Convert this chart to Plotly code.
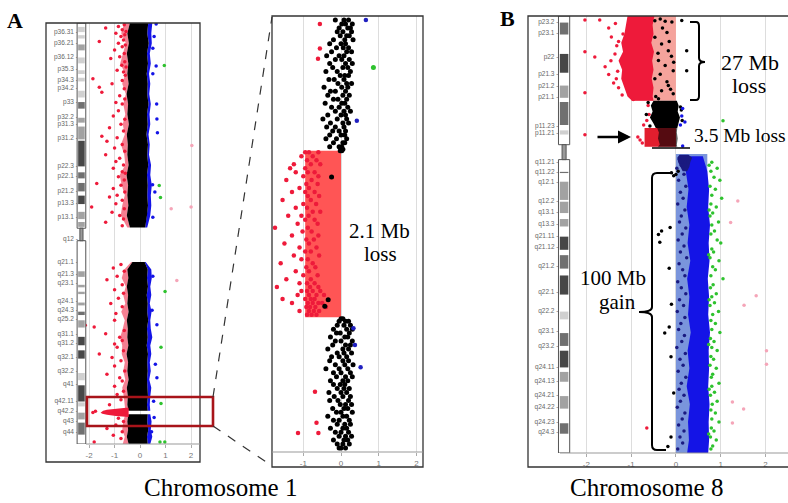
import plotly.graph_objects as go

W, H = 788, 503

# ======================= DATA =======================
CHR1_LEN = 249.25
CHR8_LEN = 146.36

# --- cytoband label positions (Mb) ---
chr1_band_labels = ["p36.31", "p36.21", "p36.12", "p35.3", "p34.3", "p34.2", "p33", "p32.2", "p31.3", "p31.2",
                    "p22.3", "p22.1", "p21.2", "p13.3", "p13.1", "q12", "q21.1", "q21.3", "q23.1", "q24.1",
                    "q24.3", "q25.2", "q31.1", "q31.2", "q32.1", "q32.2", "q41", "q42.11", "q42.2", "q43", "q44"]
chr1_band_mb = [5.3, 11.8, 20.1, 27.2, 33.7, 39.0, 46.7, 55.6, 60.3, 68.6,
                84.6, 91.1, 99.4, 106.5, 115.3, 128.3, 141.9, 149.0, 154.4, 165.0,
                170.3, 175.6, 184.5, 189.8, 198.1, 206.4, 214.1, 224.1, 230.1, 236.0, 242.5]

chr8_band_labels = ["p23.2", "p23.1", "p22", "p21.3", "p21.2", "p21.1", "p11.23", "p11.21", "q11.21", "q11.22",
                    "q12.1", "q12.2", "q13.1", "q13.3", "q21.11", "q21.12", "q21.2", "q22.1", "q22.2", "q23.1",
                    "q23.2", "q24.11", "q24.13", "q24.21", "q24.22", "q24.23", "q24.3"]
chr8_band_mb = [2.0, 5.7, 13.7, 19.7, 23.7, 27.4, 37.1, 39.4, 49.1, 52.5,
                55.8, 62.1, 65.8, 69.8, 73.8, 77.5, 83.9, 92.5, 98.9, 105.6,
                110.6, 117.6, 122.3, 127.0, 131.0, 136.0, 139.3]

# --- stained (gpos) bands ---
chr1_stain_start = [2.3, 7.2, 12.7, 20.4, 28.0, 32.4, 40.1, 46.8, 56.1, 61.3, 69.7, 88.4, 94.7, 102.2, 111.8, 117.8,
                    147.0, 155.0, 159.1, 165.5, 170.9, 176.0, 185.8, 193.8, 207.2, 214.5, 224.6, 230.7, 236.6]
chr1_stain_end = [5.4, 9.2, 16.2, 23.9, 30.2, 34.6, 44.1, 50.7, 59.0, 68.9, 84.9, 92.0, 99.7, 107.2, 116.1, 120.7,
                  150.3, 156.5, 160.5, 167.2, 172.9, 180.3, 190.8, 198.7, 211.5, 224.1, 227.0, 234.7, 243.7]
chr1_stain_level = [25, 25, 50, 25, 25, 25, 25, 75, 50, 50, 100, 75, 75, 100, 50, 50,
                    50, 50, 50, 50, 75, 50, 100, 100, 25, 100, 25, 50, 75]
chr1_centromere = [121.5, 128.9]
chr1_heterochromatin = [128.9, 142.6]

chr8_stain_start = [2.2, 12.7, 23.3, 28.8, 38.3, 52.2, 55.5, 62.2, 68.0, 73.9, 80.1, 86.9, 99.0, 106.2, 112.1, 119.2, 127.3, 136.4]
chr8_stain_end = [6.2, 19.0, 27.4, 36.5, 39.7, 52.6, 61.6, 66.0, 70.5, 78.3, 84.6, 93.3, 101.6, 110.5, 117.7, 122.5, 131.5, 139.9]
chr8_stain_level = [75, 100, 50, 75, 25, 75, 50, 50, 50, 100, 75, 100, 25, 75, 100, 50, 50, 75]
chr8_centromere = [43.1, 48.1]

# --- chromosome 1 dense log2-ratio cloud envelopes ---
chr1p_mb = [0, 6, 12, 18, 24, 30, 36, 42, 48, 54, 60, 66, 72, 78, 84, 90, 96, 102, 108, 114, 121]
chr1p_black_left = [-0.40, -0.50, -0.44, -0.52, -0.46, -0.50, -0.45, -0.53, -0.47, -0.50, -0.44, -0.52, -0.48, -0.50, -0.45, -0.53, -0.47, -0.50, -0.46, -0.52, -0.40]
chr1p_black_right = [0.32, 0.28, 0.34, 0.27, 0.31, 0.26, 0.30, 0.28, 0.33, 0.27, 0.30, 0.25, 0.31, 0.28, 0.32, 0.27, 0.30, 0.28, 0.31, 0.27, 0.20]
chr1p_blue_right = [0.48, 0.44, 0.46, 0.38, 0.42, 0.35, 0.40, 0.36, 0.42, 0.37, 0.40, 0.33, 0.38, 0.35, 0.43, 0.40, 0.46, 0.42, 0.44, 0.40, 0.28]
chr1p_red_left = [-0.62, -0.74, -0.56, -0.66, -0.78, -0.58, -0.70, -0.56, -0.66, -0.58, -0.68, -0.60, -0.75, -0.62, -0.58, -0.80, -0.72, -0.60, -0.70, -0.76, -0.50]

chr1q_mb = [141.5, 146, 151, 156, 161, 166, 171, 176, 181, 186, 191, 196, 201, 206, 211, 216, 221, 226, 229.6, 231.7, 236, 241, 245, 249.25]
chr1q_black_left = [-0.30, -0.50, -0.46, -0.52, -0.47, -0.50, -0.45, -0.52, -0.48, -0.50, -0.46, -0.53, -0.47, -0.50, -0.45, -0.52, -0.48, -0.50, -0.46, -0.46, -0.50, -0.47, -0.52, -0.45]
chr1q_black_right = [0.18, 0.30, 0.27, 0.31, 0.26, 0.30, 0.28, 0.32, 0.27, 0.30, 0.26, 0.31, 0.28, 0.30, 0.27, 0.29, 0.31, 0.27, 0.30, 0.30, 0.28, 0.32, 0.27, 0.30]
chr1q_blue_right = [0.22, 0.44, 0.46, 0.40, 0.44, 0.38, 0.45, 0.40, 0.42, 0.48, 0.40, 0.44, 0.38, 0.42, 0.36, 0.44, 0.40, 0.38, 0.40, 0.40, 0.45, 0.42, 0.48, 0.40]
chr1q_red_left = [-0.35, -0.62, -0.72, -0.56, -0.66, -0.58, -0.74, -0.60, -0.68, -0.78, -0.70, -0.72, -0.60, -0.66, -0.58, -0.70, -0.64, -0.60, -0.58, -0.58, -0.66, -0.70, -0.60, -0.68]

chr1_loss = [229.6, 231.7]          # 2.1 Mb deletion (q42.2)
chr1_loss_log2 = -0.95

chr1_cluster_mb = [227.8, 228.4, 229.0, 229.6, 230.2, 230.8, 231.4, 232.0, 232.6, 233.2]
chr1_cluster_left = [-0.55, -0.95, -1.30, -1.45, -1.52, -1.55, -1.48, -1.30, -0.95, -0.55]
chr1_cluster_right = [-0.45, -0.45, -0.45, -0.45, -0.45, -0.45, -0.45, -0.45, -0.45, -0.45]

chr1_red = [(1, -0.62), (2, -0.85), (3, -1.35), (4, -0.70), (5, -0.55), (6, -0.95), (7, -0.60), (8, -0.75), (10, -0.65),
            (11, -1.60), (12, -0.85), (13, -0.58), (14, -0.70), (16, -1.00), (18, -0.62), (20, -0.80), (21, -1.15),
            (23, -0.60), (25, -0.72), (26, -0.55), (28, -0.90), (29, -0.65), (31, -0.58), (33, -1.85), (34, -0.70),
            (36, -1.10), (38, -1.60), (39, -0.62), (41, -1.50), (43, -0.80), (45, -0.60), (47, -0.95), (48, -0.70),
            (52, -0.85), (55, -1.05), (57, -0.60), (60, -0.75), (62, -1.20), (64, -0.65), (67, -1.50), (68, -0.90),
            (70, -1.30), (72, -0.70), (74, -1.00), (76, -0.60), (78, -1.35), (80, -0.80), (82, -0.95), (84, -0.65),
            (86, -1.05), (88, -0.70), (89, -0.58), (91, -0.85), (93, -0.62), (95, -1.70), (96, -0.75), (98, -1.05),
            (100, -0.60), (102, -0.90), (103, -1.20), (105, -0.70), (107, -0.95), (109, -1.90), (110, -0.62),
            (112, -1.10), (114, -0.80), (116, -0.65), (118, -1.35), (120, -0.70),
            (143, -0.75), (145, -1.05), (147, -0.62), (150, -0.90), (152, -1.30), (155, -0.70), (158, -1.00),
            (160, -0.65), (163, -0.85), (166, -1.15), (168, -0.70), (172, -0.95), (176, -1.00), (179, -2.15),
            (180, -1.80), (182, -0.62), (184, -1.35), (186, -0.80), (188, -0.70), (190, -1.00), (192, -0.90),
            (194, -0.65), (196, -1.60), (198, -1.10), (200, -0.75), (203, -1.00), (206, -0.60), (208, -1.30),
            (210, -0.80), (212, -0.70), (215, -1.00), (218, -0.65), (220, -0.90), (223, -0.75), (226, -1.20),
            (229.8, -1.75), (230.6, -1.85), (234, -0.85), (236, -0.65), (238, -0.95), (240, -1.30), (242, -0.70),
            (244, -1.05), (246, -0.75), (248, -1.80)]
chr1_blue = [(0.6, 0.63), (8, 0.55), (15, 0.50), (25.5, 0.63), (30, 0.50), (47.9, 0.65), (56.8, 0.66), (65, 0.68),
             (95.7, 0.49), (100, 0.58), (115, 0.50), (150, 0.50), (170, 0.47), (178.6, 0.66), (202, 0.60),
             (210, 0.66), (224, 0.53), (233.6, 0.55), (242, 0.45)]
chr1_green = [(25.2, 0.95), (96.2, 0.75), (103.3, 0.80), (159, 0.98), (192, 0.82), (225.3, 0.82), (248, 0.78), (248, 0.97)]
chr1_pink = [(72.5, 2.03), (110, 1.22), (109, 2.0), (152.4, 1.44)]

# --- zoomed q42 region of chromosome 1 (Mb : log2 ratios) ---
zoom_black_top = [(227.95, [0.08, 0.20, -0.15]), (228.00, [0.30, 0.02, 0.12]), (228.05, [-0.05, 0.18, 0.25]),
                  (228.10, [0.05, 0.28, -0.10]), (228.15, [0.15, -0.02, 0.22]), (228.20, [0.10, -0.20, 0.32]),
                  (228.25, [0.00, 0.12, -0.30]), (228.30, [0.20, -0.12, 0.06]), (228.35, [-0.25, 0.15, 0.28]),
                  (228.40, [-0.05, 0.08, -0.38]), (228.45, [0.22, -0.15, 0.02]), (228.50, [-0.30, 0.12, 0.30]),
                  (228.55, [0.05, -0.22, 0.18]), (228.60, [-0.10, 0.25, -0.40]), (228.65, [0.10, -0.02, 0.20]),
                  (228.70, [-0.18, 0.08, -0.32]), (228.75, [0.15, -0.08, 0.28]), (228.80, [-0.45, 0.02, 0.18]),
                  (228.85, [-0.15, 0.12, -0.28]), (228.90, [0.05, -0.35, 0.22]), (228.95, [-0.08, 0.15, -0.20]),
                  (229.00, [0.10, -0.42, 0.02]), (229.05, [-0.25, 0.18, -0.05]), (229.10, [0.08, -0.15, 0.25]),
                  (229.15, [-0.35, 0.00, 0.12]), (229.20, [-0.10, 0.15, -0.48]), (229.25, [0.05, -0.28, 0.20]),
                  (229.30, [-0.15, 0.08, -0.38]), (229.35, [0.12, -0.05, -0.22]), (229.40, [-0.30, 0.10, 0.00]),
                  (229.45, [-0.12, 0.15, -0.40]), (229.50, [0.05, -0.20, 0.10]), (229.55, [-0.05, 0.02, -0.30]),
                  (229.58, [0.00, 0.05]), (229.60, [0.02, -0.02])]
zoom_black_bottom = [(231.72, [0.00, 0.05]), (231.75, [-0.05, 0.12, 0.20]), (231.80, [0.25, -0.10, 0.08]),
                     (231.85, [0.15, -0.20, 0.30]), (231.90, [-0.02, 0.22, -0.12]), (231.95, [0.10, -0.28, 0.18]),
                     (232.00, [0.30, 0.00, -0.15]), (232.05, [-0.22, 0.12, 0.25]), (232.10, [0.05, -0.35, 0.20]),
                     (232.15, [-0.10, 0.28, 0.08]), (232.20, [0.15, -0.25, -0.05]), (232.25, [-0.30, 0.20, 0.05]),
                     (232.30, [0.10, -0.15, 0.32]), (232.35, [-0.05, 0.18, -0.40]), (232.40, [0.25, 0.00, -0.20]),
                     (232.45, [-0.12, 0.12, 0.30]), (232.50, [0.05, -0.28, 0.18]), (232.55, [-0.20, 0.10, -0.02]),
                     (232.60, [0.22, -0.10, 0.08]), (232.65, [-0.32, 0.15, 0.00]), (232.70, [0.05, -0.18, 0.25]),
                     (232.75, [-0.08, 0.20, -0.30]), (232.80, [0.12, -0.02, 0.28]), (232.85, [-0.22, 0.08, 0.18]),
                     (232.90, [0.00, -0.12, 0.30]), (232.95, [0.15, -0.35, 0.05]), (233.00, [-0.05, 0.22, -0.20]),
                     (233.05, [0.10, -0.10, 0.25]), (233.10, [-0.28, 0.05, 0.15]), (233.15, [0.20, -0.15, 0.00]),
                     (233.20, [-0.05, 0.12, 0.28]), (233.25, [0.08, -0.20, 0.18]), (233.30, [-0.10, 0.05, 0.22]),
                     (233.35, [0.00, 0.12, -0.05])]
zoom_red = [(229.62, [-0.85, -0.60, -0.95]), (229.67, [-0.75, -1.05]), (229.72, [-0.90, -0.65]),
            (229.77, [-1.25, -0.80, -0.55]), (229.82, [-1.35, -0.95]), (229.87, [-0.70, -1.20, -0.88]),
            (229.92, [-0.60, -1.00]), (229.97, [-1.45, -0.78]), (230.02, [-0.92, -0.62]), (230.07, [-0.85, -1.10]),
            (230.12, [-1.30, -0.70, -0.95]), (230.17, [-0.58, -0.88]), (230.22, [-1.55, -0.80]),
            (230.27, [-1.00, -0.66]), (230.32, [-0.90, -1.20]), (230.37, [-0.75, -0.55]),
            (230.42, [-1.40, -0.86, -1.05]), (230.47, [-0.70, -0.95]), (230.52, [-1.15, -0.62]),
            (230.57, [-0.88, -1.75]), (230.62, [-0.78, -1.02]), (230.67, [-1.30, -0.60]), (230.72, [-0.92, -0.72]),
            (230.77, [-1.50, -0.85]), (230.82, [-0.65, -1.10]), (230.87, [-0.95, -0.80]), (230.92, [-1.25, -0.58]),
            (230.97, [-0.88, -1.05]), (231.02, [-1.60, -0.75]), (231.07, [-0.92, -0.68]), (231.12, [-1.20, -0.85]),
            (231.17, [-0.62, -1.00]), (231.22, [-1.45, -0.80]), (231.27, [-0.90, -0.70, -1.10]),
            (231.32, [-0.82, -0.60, -1.70]), (231.37, [-1.05, -0.75, -0.90, -0.55]),
            (231.42, [-0.85, -0.65, -1.15, -0.45]), (231.47, [-0.95, -0.70, -0.80, -1.55]),
            (231.52, [-0.88, -0.60, -0.75, -1.30, -0.50]), (231.57, [-0.92, -0.68, -0.82, -0.40]),
            (231.62, [-0.85, -0.72, -1.10, -0.58]), (231.67, [-0.78, -0.90, -0.65]),
            (228.00, [-0.56]), (228.31, [-0.56]), (228.44, [-0.61]),
            (232.64, [-0.69]), (233.16, [-1.14, -0.60]), (233.03, [-0.65])]
zoom_black_in_loss = [(229.93, -0.25), (231.48, -0.34), (231.56, -0.43)]
zoom_blue = [(227.95, 0.66), (229.22, 0.42), (231.84, 0.33), (232.05, 0.37), (232.33, 0.52)]
zoom_green = [(228.55, 0.86)]

# --- chromosome 8 ---
chr8_loss1 = [0.0, 28.4]      # 27 Mb loss
chr8_loss1_log2 = -1.0
chr8_loss2 = [37.5, 43.8]     # 3.5 Mb loss
chr8_loss2_log2 = -0.70
chr8_gain = [46.2, CHR8_LEN]  # 100 Mb gain
chr8_gain_log2 = 0.70

chr8_red_mb = [0, 3, 6, 9, 12, 15, 18, 21, 24, 27, 28.4]
chr8_red_left = [-1.08, -1.12, -1.15, -1.22, -1.18, -1.28, -1.20, -1.22, -1.15, -1.08, -0.98]
chr8_red_right = [-0.48, -0.52, -0.50, -0.55, -0.49, -0.53, -0.50, -0.54, -0.50, -0.52, -0.50]

chr8_black_mb = [28.4, 30, 32, 34, 36, 37.5]
chr8_black_left = [-0.50, -0.56, -0.52, -0.58, -0.50, -0.45]
chr8_black_right = [0.02, 0.06, 0.04, 0.09, 0.05, 0.03]
chr8_dark_mb = [37.5, 39, 41, 43, 43.8]
chr8_dark_left = [-0.42, -0.38, -0.40, -0.36, -0.40]
chr8_dark_right = [0.03, 0.02, 0.04, 0.02, 0.03]

chr8_blue_mb = [47.0, 52, 58, 64, 70, 76, 82, 88, 94, 100, 106, 112, 118, 124, 130, 136, 142, CHR8_LEN]
chr8_blue_left = [0.10, 0.22, 0.28, 0.24, 0.30, 0.26, 0.32, 0.25, 0.30, 0.27, 0.33, 0.26, 0.30, 0.24, 0.31, 0.27, 0.29, 0.25]
chr8_blue_right = [0.60, 0.70, 0.74, 0.72, 0.76, 0.73, 0.75, 0.71, 0.74, 0.72, 0.76, 0.73, 0.74, 0.72, 0.75, 0.73, 0.74, 0.72]
chr8_navy_mb = [46.5, 47.5, 49, 50.5, 52]
chr8_navy_left = [0.08, 0.03, 0.05, 0.10, 0.15]
chr8_navy_right = [0.28, 0.36, 0.32, 0.30, 0.25]

chr8_red = [(1.3, -2.03), (1.3, -1.70), (2.5, -1.35), (4.0, -1.50), (6.0, -1.18), (7.0, -1.44), (8.5, -1.28),
            (10.0, -1.32), (12.0, -2.03), (12.7, -1.36), (13.7, -1.81), (15.0, -1.45), (17.0, -1.58), (18.5, -1.30),
            (19.6, -1.50), (21.0, -1.33), (22.4, -1.39), (24.0, -1.28), (25.7, -2.03), (26.5, -1.20), (28.0, -0.95),
            (30.0, -0.62), (33.0, -0.60), (35.0, -0.65), (36.5, -0.72), (39.8, -2.03), (40.5, -0.85), (41.5, -0.80),
            (42.5, -0.75), (138.0, -0.65)]
chr8_black = [(1.0, -0.35), (1.6, -0.47), (1.8, -0.24), (2.0, -0.09), (1.5, 0.13), (4.0, -0.30), (7.1, -0.47),
              (8.5, -0.15), (9.4, -0.32), (11.6, -0.17), (12.5, -0.40), (14.9, -0.39), (15.5, -0.05), (16.6, -0.24),
              (18.3, -0.06), (19.5, -0.35), (21.0, -0.47), (22.0, -0.20), (23.3, -0.17), (25.0, -0.32), (26.0, -0.06),
              (27.0, -0.45), (27.7, -0.39), (11.6, 0.24), (18.3, 0.24), (5.5, -0.20), (13.5, -0.10), (24.5, -0.12),
              (29.0, -0.62), (31.5, 0.12), (33.0, -0.66), (35.0, 0.14), (36.8, -0.58), (30.5, 0.10),
              (52.5, -0.10), (53.1, 0.0), (52.0, 0.05), (53.5, -0.05), (70.8, -0.13), (72.0, -0.32), (73.2, -0.39),
              (75.8, -0.36), (84.5, -0.15), (96.5, -0.10), (104.2, -0.15), (106.2, -0.25), (114.1, -0.11),
              (126.3, -0.05), (141.0, -0.11), (144.2, -0.18)]
chr8_navy = [(48, 0.08), (49, 0.20), (50, 0.12), (51, 0.02), (53, 0.18), (55, 0.06), (57, 0.22), (59, 0.10),
             (61, 0.16), (63, 0.04), (65, 0.20), (67, 0.12), (69, 0.08), (71, 0.22), (73, 0.14), (75, 0.05),
             (77, 0.18), (79, 0.10), (81, 0.24), (83, 0.07), (85, 0.15), (87, 0.20), (89, 0.04), (91, 0.12),
             (93, 0.22), (95, 0.08), (97, 0.17), (99, 0.03), (101, 0.20), (103, 0.11), (105, 0.06), (107, 0.19),
             (109, 0.13), (111, 0.02), (113, 0.21), (115, 0.09), (117, 0.16), (119, 0.05), (121, 0.22), (123, 0.12),
             (125, 0.07), (127, 0.18), (129, 0.10), (131, 0.03), (133, 0.20), (135, 0.14), (137, 0.06), (139, 0.18),
             (141, 0.09), (143, 0.15), (145, 0.04)]
chr8_blue = [(31.0, 0.15), (33.5, 0.13), (35.5, 0.20), (36.5, 0.10), (43.5, 0.15)]
chr8_green = [(35.1, 1.05), (49, 0.80), (51, 0.92), (52, 0.78), (54, 0.85), (55, 0.98), (57, 0.76), (58, 0.88),
              (60, 0.80), (61, 1.02), (63, 0.78), (64, 0.90), (66, 0.82), (67, 0.76), (69, 0.95), (70, 0.80),
              (72, 0.86), (73, 0.78), (75, 0.92), (76, 1.00), (78, 0.80), (79, 0.84), (81, 0.76), (82, 0.96),
              (84, 0.82), (85, 0.88), (87, 0.78), (88, 1.05), (90, 0.83), (91, 0.77), (93, 0.90), (94, 0.80),
              (96, 0.86), (97, 0.76), (99, 0.95), (100, 0.82), (102, 0.78), (103, 0.88), (105, 0.80), (106, 0.98),
              (108, 0.77), (109, 0.85), (111, 0.80), (112, 0.92), (114, 0.78), (115, 0.84), (117, 0.76), (118, 0.90),
              (120, 0.82), (121, 0.79), (123, 0.96), (124, 0.80), (126, 0.86), (127, 0.77), (129, 0.92), (130, 0.81),
              (132, 0.78), (133, 0.88), (135, 0.80), (136, 0.96), (138, 0.79), (139, 0.85), (141, 0.77), (142, 0.90),
              (144, 0.82), (145, 0.78), (50, 0.74), (65, 0.74), (80, 0.73), (95, 0.74), (110, 0.73), (125, 0.74),
              (140, 0.73)]
chr8_pink = [(62, 1.38), (69.2, 1.22), (93.7, 1.79), (96.9, 1.52), (112.1, 2.02), (116.6, 2.02), (129.3, 1.26),
             (131.6, 1.51), (136.3, 1.26)]

x_ticks = [-2, -1, 0, 1, 2]

# ======================= STYLE / HELPERS =======================
RED = "#ee1a3a"
BLUE = "#1414e6"
NAVY = "#1a1a80"
GREEN = "#2ec22e"
PINK = "#f5a5b8"
STAIN = {25: "#d0d0d0", 50: "#a2a2a2", 75: "#707070", 100: "#474747"}
SERIF = "Liberation Serif"


def PX(x):
    return x / W


def PY(y):
    return 1 - y / H


fig = go.Figure()
shapes = []
annotations = []


def add_poly(mb, left, right, color, xa, ya, opacity=1.0):
    xs = list(left) + list(right)[::-1] + [left[0]]
    ys = list(mb) + list(mb)[::-1] + [mb[0]]
    fig.add_trace(go.Scatter(x=xs, y=ys, xaxis=xa, yaxis=ya, mode="lines", fill="toself",
                             fillcolor=color, line=dict(width=0), opacity=opacity,
                             hoverinfo="skip", showlegend=False))


def add_segment(span, low, high, color, xa, ya, opacity=1.0):
    add_poly(span, [low, low], [high, high], color, xa, ya, opacity)


def add_pts(pairs, color, size, xa, ya):
    fig.add_trace(go.Scatter(x=[p[1] for p in pairs], y=[p[0] for p in pairs], xaxis=xa, yaxis=ya,
                             mode="markers", marker=dict(color=color, size=size, line=dict(width=0)),
                             hoverinfo="skip", showlegend=False))


def add_rows(rows, color, size, xa, ya):
    pairs = [(mb, v) for mb, vals in rows for v in vals]
    add_pts(pairs, color, size, xa, ya)


def sub(lst, idx):
    return [lst[i] for i in idx]


def ideogram(xa, ya, x0, x1, length, cen, starts, ends, levels, labels, label_mb, label_x, het=None):
    xr, yr = xa, ya
    inset = (x1 - x0) * 0.12
    shapes.append(dict(type="rect", xref=xr, yref=yr, x0=x0, x1=x1, y0=0, y1=cen[0],
                       line=dict(color="#555", width=1), fillcolor="white", layer="above"))
    shapes.append(dict(type="rect", xref=xr, yref=yr, x0=x0, x1=x1, y0=cen[1], y1=length,
                       line=dict(color="#555", width=1), fillcolor="white", layer="above"))
    for s, e, lv in zip(starts, ends, levels):
        shapes.append(dict(type="rect", xref=xr, yref=yr, x0=x0 + inset, x1=x1 - inset, y0=s, y1=e,
                           line=dict(width=0), fillcolor=STAIN[lv], layer="above"))
    mid = (x0 + x1) / 2
    w = (x1 - x0) * 0.18
    shapes.append(dict(type="rect", xref=xr, yref=yr, x0=mid - w, x1=mid + w, y0=cen[0], y1=cen[1],
                       line=dict(color="#555", width=1), fillcolor="#9a9a9a", layer="above"))
    if het is not None:
        fig.add_trace(go.Scatter(x=[x0 + inset, x1 - inset, x1 - inset, x0 + inset, x0 + inset],
                                 y=[het[0], het[0], het[1], het[1], het[0]], xaxis=xa, yaxis=ya,
                                 mode="lines", fill="toself", fillcolor="#d8d8d8",
                                 fillpattern=dict(shape="/", fgcolor="#8a8a8a", bgcolor="#e4e4e4", size=4, solidity=0.35),
                                 line=dict(width=0.8, color="#666"), hoverinfo="skip", showlegend=False))
    fig.add_trace(go.Scatter(x=[label_x] * len(labels), y=label_mb, xaxis=xa, yaxis=ya, mode="text",
                             text=[t + " -" for t in labels], textposition="middle left",
                             textfont=dict(family="Liberation Sans", size=6.5, color="#666"),
                             cliponaxis=False, hoverinfo="skip", showlegend=False))


# ======================= PANEL A: chromosome 1 =======================
XA, YA = "x", "y"
ideogram(XA, YA, -2.47, -2.13, CHR1_LEN, chr1_centromere, chr1_stain_start, chr1_stain_end, chr1_stain_level,
         chr1_band_labels, chr1_band_mb, -2.44, het=chr1_heterochromatin)

add_poly(chr1p_mb, chr1p_red_left, chr1p_black_left, RED, XA, YA, 0.55)
add_poly(chr1p_mb, chr1p_black_right, chr1p_blue_right, BLUE, XA, YA)
add_poly(chr1p_mb, chr1p_black_left, chr1p_black_right, "black", XA, YA)
up = [i for i, m in enumerate(chr1q_mb) if m <= chr1_loss[0]]
dn = [i for i, m in enumerate(chr1q_mb) if m >= chr1_loss[1]]
for idx in (up, dn):
    add_poly(sub(chr1q_mb, idx), sub(chr1q_red_left, idx), sub(chr1q_black_left, idx), RED, XA, YA, 0.55)
    add_poly(sub(chr1q_mb, idx), sub(chr1q_black_right, idx), sub(chr1q_blue_right, idx), BLUE, XA, YA)
    add_poly(sub(chr1q_mb, idx), sub(chr1q_black_left, idx), sub(chr1q_black_right, idx), "black", XA, YA)
add_poly(chr1_cluster_mb, chr1_cluster_left, chr1_cluster_right, RED, XA, YA)
add_pts(chr1_red, RED, 3.5, XA, YA)
add_pts(chr1_blue, BLUE, 3.5, XA, YA)
add_pts(chr1_green, GREEN, 3.5, XA, YA)
add_pts(chr1_pink, PINK, 3.5, XA, YA)

# ======================= zoom panel =======================
XZ, YZ = "x2", "y2"
add_segment(chr1_loss, chr1_loss_log2, 0.0, "#ff5555", XZ, YZ)
add_rows(zoom_black_top, "black", 5, XZ, YZ)
add_rows(zoom_black_bottom, "black", 5, XZ, YZ)
add_rows(zoom_red, RED, 4.5, XZ, YZ)
add_pts(zoom_black_in_loss, "black", 5, XZ, YZ)
add_pts(zoom_blue, "#2020c0", 4.5, XZ, YZ)
add_pts(zoom_green, GREEN, 5, XZ, YZ)

# ======================= PANEL B: chromosome 8 =======================
XB, YB = "x3", "y3"
ideogram(XB, YB, -2.62, -2.37, CHR8_LEN, chr8_centromere, chr8_stain_start, chr8_stain_end, chr8_stain_level,
         chr8_band_labels, chr8_band_mb, -2.62)
add_segment(chr8_loss1, chr8_loss1_log2, 0.0, "#f5a39c", XB, YB)
add_segment(chr8_loss2, chr8_loss2_log2, 0.0, "#e21e2e", XB, YB)
add_segment(chr8_gain, 0.0, chr8_gain_log2, "#7a95dc", XB, YB)
add_poly(chr8_red_mb, chr8_red_left, chr8_red_right, RED, XB, YB)
add_poly(chr8_black_mb, chr8_black_left, chr8_black_right, "black", XB, YB)
add_poly(chr8_dark_mb, chr8_dark_left, chr8_dark_right, "black", XB, YB, 0.62)
add_poly(chr8_blue_mb, chr8_blue_left, chr8_blue_right, BLUE, XB, YB)
add_poly(chr8_navy_mb, chr8_navy_left, chr8_navy_right, NAVY, XB, YB)
add_pts(chr8_navy, NAVY, 3.5, XB, YB)
add_pts(chr8_green, GREEN, 3.5, XB, YB)
add_pts(chr8_red, RED, 3.5, XB, YB)
add_pts(chr8_black, "black", 3.5, XB, YB)
add_pts(chr8_blue, BLUE, 3.5, XB, YB)
add_pts(chr8_pink, PINK, 3.5, XB, YB)


# ======================= frames, callouts =======================
def prect(x0, y0, x1, y1, color, width, dash=None):
    line = dict(color=color, width=width)
    if dash:
        line["dash"] = dash
    shapes.append(dict(type="rect", xref="paper", yref="paper", x0=PX(x0), x1=PX(x1), y0=PY(y1), y1=PY(y0),
                       line=line, fillcolor="rgba(0,0,0,0)", layer="above"))


def pline(x0, y0, x1, y1, color, width, dash=None):
    line = dict(color=color, width=width)
    if dash:
        line["dash"] = dash
    shapes.append(dict(type="line", xref="paper", yref="paper", x0=PX(x0), x1=PX(x1), y0=PY(y0), y1=PY(y1),
                       line=line, layer="above"))


def ppath(cmds, color, width):
    parts = []
    for c in cmds:
        if isinstance(c, str):
            parts.append(c)
        else:
            parts.append(f"{PX(c[0]):.5f},{PY(c[1]):.5f}")
    shapes.append(dict(type="path", xref="paper", yref="paper", path=" ".join(parts),
                       line=dict(color=color, width=width), layer="above"))


prect(46, 23, 200, 462, "#333", 1.3)
prect(272, 16, 423, 467, "#333", 1.3)
prect(528, 16, 792, 467, "#333", 1.3)
pline(86, 444, 200, 444, "#999", 1)
pline(272, 452, 423, 452, "#999", 1)
pline(560, 453, 790, 453, "#999", 1)

prect(87, 397, 213, 426, "#a8141a", 2.6)
pline(213, 397, 272, 17, "#333", 1.2, "dash")
pline(213, 426, 272, 466, "#333", 1.2, "dash")

ppath(["M", (690, 22), "L", (696, 22), "Q", (699, 22), (699, 26), "L", (699, 58), "Q", (699, 62), (705, 62),
       "Q", (699, 62), (699, 66), "L", (699, 96), "Q", (699, 100), (696, 100), "L", (690, 100)], "black", 2)
ppath(["M", (673, 173), "L", (657, 173), "Q", (652, 173), (652, 178), "L", (652, 307), "Q", (652, 312), (639, 312),
       "Q", (652, 312), (652, 317), "L", (652, 445), "Q", (652, 450), (657, 450), "L", (666, 450)], "black", 2)
pline(652, 148, 690, 148, "black", 1.5)


def ptext(x, y, text, size, bold=False, xanchor="center"):
    annotations.append(dict(xref="paper", yref="paper", x=PX(x), y=PY(y), text=f"<b>{text}</b>" if bold else text,
                            showarrow=False, xanchor=xanchor, yanchor="middle",
                            font=dict(family=SERIF, size=size, color="black")))


ptext(15, 21, "A", 22, bold=True)
ptext(507, 18, "B", 22, bold=True)
ptext(379, 231, "2.1 Mb", 21)
ptext(380, 254, "loss", 21)
ptext(750, 62, "27 Mb", 22)
ptext(749, 85, "loss", 22)
ptext(692, 135, "3.5 Mb loss", 19.5, xanchor="left")
ptext(613, 278, "100 Mb", 21)
ptext(617, 302, "gain", 21)
ptext(220, 487, "Chromosome 1", 25)
ptext(646, 487, "Chromosome 8", 25)

annotations.append(dict(xref="paper", yref="paper", x=PX(631), y=PY(137), ax=-35, ay=0, text="",
                        showarrow=True, arrowhead=2, arrowsize=1, arrowwidth=2.6, arrowcolor="black"))

# ======================= axes / layout =======================
axis_x = dict(showgrid=True, gridcolor="#dddddd", gridwidth=1, zeroline=False, showline=False,
              ticks="outside", ticklen=3, tickcolor="#aaa", tickvals=x_ticks,
              ticktext=[str(t) for t in x_ticks],
              tickfont=dict(family="Liberation Sans", size=8, color="#777"), fixedrange=True)
axis_y = dict(visible=False, showgrid=False, zeroline=False, fixedrange=True)

fig.update_layout(
    width=W, height=H, margin=dict(l=0, r=0, t=0, b=0),
    paper_bgcolor="white", plot_bgcolor="white", showlegend=False,
    xaxis=dict(domain=[PX(46), PX(200)], range=[-3.69, 2.35], anchor="y", **axis_x),
    yaxis=dict(domain=[PY(444), PY(23)], range=[CHR1_LEN, 0], anchor="x", **axis_y),
    xaxis2=dict(domain=[PX(272), PX(423)], range=[-1.83, 2.175], anchor="y2", **axis_x),
    yaxis2=dict(domain=[PY(452), PY(16)], range=[233.4, 227.9], anchor="x2", **axis_y),
    xaxis3=dict(domain=[PX(528), 1.0], range=[-3.30, 2.50], anchor="y3", **axis_x),
    yaxis3=dict(domain=[PY(453), PY(16)], range=[CHR8_LEN, 0], anchor="x3", **axis_y),
    shapes=shapes, annotations=annotations,
)

fig.write_html("out.html", config={"displayModeBar": False},
               post_script="document.body.style.margin='0';document.body.style.padding='0';document.body.style.overflow='hidden';")
